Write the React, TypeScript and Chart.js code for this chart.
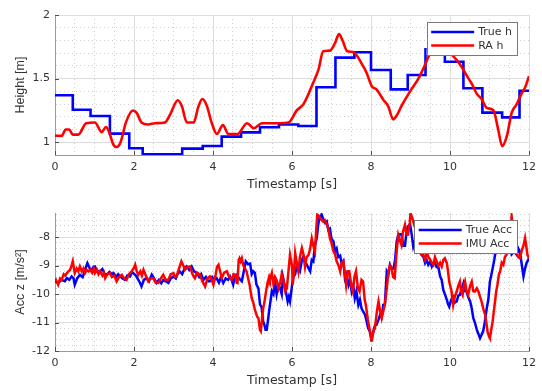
import React, { useEffect, useRef } from 'react';
import { Chart, registerables } from 'chart.js';

Chart.register(...registerables);

// ---------------- data ----------------
// Top: height
const trueHT = [0, 0.45, 0.9, 1.39, 1.88, 2.22, 3.22, 3.74, 4.22, 4.71, 5.19, 5.67, 6.16, 6.62, 7.1, 7.58, 8.0, 8.5, 8.93, 9.38, 9.87, 10.34, 10.82, 11.32, 11.76, 12];
const trueHV = [1.37, 1.256, 1.207, 1.068, 0.953, 0.906, 0.95, 0.971, 1.044, 1.078, 1.118, 1.14, 1.128, 1.432, 1.665, 1.707, 1.568, 1.416, 1.529, 1.73, 1.633, 1.424, 1.233, 1.196, 1.405, 1.405];

const raHT = [0, 0.17, 0.27, 0.36, 0.45, 0.59, 0.79, 1.01, 1.18, 1.29, 1.37, 1.48, 1.56, 1.66, 1.8, 1.97, 2.07, 2.19, 2.36, 2.53, 2.78, 2.91, 3.11, 3.21, 3.34, 3.51, 3.63, 3.73, 3.84, 3.97, 4.1, 4.25, 4.39, 4.62, 4.86, 5.03, 5.24, 5.44, 5.7, 5.91, 6.12, 6.29, 6.54, 6.67, 6.79, 6.96, 7.09, 7.19, 7.28, 7.4, 7.55, 7.76, 7.89, 8.02, 8.14, 8.31, 8.44, 8.56, 8.65, 8.78, 8.99, 9.2, 9.34, 9.5, 9.65, 9.8, 9.95, 10.04, 10.17, 10.3, 10.42, 10.55, 10.68, 10.8, 10.93, 11.1, 11.22, 11.32, 11.44, 11.56, 11.69, 11.81, 11.9, 12.0];
const raHV = [1.052, 1.05, 1.1, 1.1, 1.06, 1.06, 1.15, 1.155, 1.08, 1.12, 1.08, 0.98, 0.963, 1.0, 1.16, 1.25, 1.23, 1.155, 1.14, 1.15, 1.155, 1.215, 1.33, 1.285, 1.155, 1.155, 1.28, 1.34, 1.29, 1.15, 1.065, 1.135, 1.065, 1.065, 1.15, 1.11, 1.15, 1.15, 1.15, 1.155, 1.25, 1.3, 1.47, 1.57, 1.715, 1.72, 1.78, 1.85, 1.8, 1.715, 1.71, 1.62, 1.545, 1.44, 1.415, 1.335, 1.28, 1.18, 1.21, 1.29, 1.4, 1.5, 1.59, 1.7, 1.76, 1.74, 1.71, 1.69, 1.645, 1.59, 1.525, 1.46, 1.38, 1.34, 1.27, 1.25, 1.1, 0.97, 1.05, 1.23, 1.3, 1.38, 1.43, 1.52];

// Bottom: acceleration
const trueAccT = [0, 0.08, 0.17, 0.25, 0.3, 0.36, 0.42, 0.47, 0.5, 0.56, 0.63, 0.7, 0.76, 0.82, 0.88, 0.93, 0.97, 1.01, 1.07, 1.14, 1.2, 1.26, 1.31, 1.38, 1.44, 1.48, 1.55, 1.6, 1.65, 1.71, 1.77, 1.83, 1.9, 1.95, 1.98, 2.05, 2.11, 2.15, 2.19, 2.25, 2.32, 2.38, 2.45, 2.51, 2.57, 2.63, 2.69, 2.74, 2.8, 2.87, 2.93, 3.0, 3.06, 3.1, 3.16, 3.22, 3.28, 3.33, 3.4, 3.46, 3.52, 3.59, 3.65, 3.7, 3.76, 3.82, 3.88, 3.92, 3.98, 4.03, 4.09, 4.15, 4.2, 4.26, 4.32, 4.38, 4.43, 4.47, 4.51, 4.55, 4.6, 4.66, 4.73, 4.78, 4.83, 4.89, 4.94, 4.98, 5.02, 5.06, 5.1, 5.15, 5.19, 5.23, 5.27, 5.3, 5.33, 5.36, 5.4, 5.42, 5.46, 5.49, 5.53, 5.57, 5.61, 5.65, 5.7, 5.74, 5.77, 5.83, 5.89, 5.92, 5.95, 6.01, 6.03, 6.08, 6.12, 6.16, 6.2, 6.25, 6.29, 6.33, 6.37, 6.42, 6.46, 6.5, 6.54, 6.58, 6.63, 6.66, 6.69, 6.72, 6.75, 6.8, 6.84, 6.88, 6.92, 6.96, 7.0, 7.05, 7.09, 7.13, 7.17, 7.22, 7.26, 7.3, 7.34, 7.38, 7.43, 7.47, 7.51, 7.55, 7.59, 7.63, 7.68, 7.72, 7.76, 7.8, 7.85, 7.89, 7.93, 7.97, 8.0, 8.04, 8.06, 8.1, 8.14, 8.19, 8.23, 8.27, 8.31, 8.35, 8.4, 8.44, 8.48, 8.52, 8.57, 8.61, 8.65, 8.69, 8.73, 8.77, 8.82, 8.86, 8.9, 8.93, 8.99, 9.03, 9.07, 9.12, 9.16, 9.22, 9.28, 9.33, 9.37, 9.41, 9.45, 9.5, 9.54, 9.58, 9.62, 9.66, 9.71, 9.75, 9.79, 9.83, 9.87, 9.92, 9.95, 9.98, 10.03, 10.08, 10.12, 10.17, 10.21, 10.25, 10.3, 10.34, 10.38, 10.42, 10.46, 10.51, 10.55, 10.59, 10.63, 10.68, 10.72, 10.76, 10.8, 10.84, 10.88, 10.93, 10.97, 11.01, 11.05, 11.08, 11.12, 11.14, 11.18, 11.22, 11.27, 11.31, 11.35, 11.4, 11.44, 11.48, 11.52, 11.56, 11.62, 11.69, 11.73, 11.77, 11.81, 11.86, 11.9, 11.94, 11.98, 12.0];
const trueAccV = [-9.55, -9.6, -9.5, -9.55, -9.44, -9.5, -9.38, -9.45, -9.67, -9.45, -9.32, -9.4, -9.15, -8.91, -9.1, -9.15, -9.05, -9.03, -9.2, -9.2, -9.12, -9.3, -9.32, -9.22, -9.3, -9.26, -9.4, -9.3, -9.38, -9.45, -9.5, -9.35, -9.38, -9.22, -9.26, -9.35, -9.5, -9.6, -9.73, -9.5, -9.44, -9.55, -9.32, -9.45, -9.61, -9.5, -9.62, -9.5, -9.55, -9.61, -9.45, -9.38, -9.45, -9.3, -9.2, -9.3, -9.1, -9.03, -9.15, -9.03, -9.2, -9.26, -9.4, -9.3, -9.5, -9.4, -9.55, -9.55, -9.4, -9.5, -9.44, -9.6, -9.4, -9.61, -9.45, -9.5, -9.38, -9.5, -9.67, -9.4, -9.32, -9.45, -9.55, -9.2, -8.85, -8.95, -8.93, -9.3, -9.2, -9.25, -9.67, -9.8, -10.37, -10.45, -10.96, -11.08, -11.25, -11.25, -10.84, -10.6, -10.2, -9.9, -10.0, -9.6, -10.0, -9.67, -9.8, -10.0, -9.4, -9.8, -10.26, -10.1, -10.26, -9.6, -9.4, -9.3, -9.0, -9.1, -9.2, -8.8, -8.68, -8.9, -8.95, -9.1, -9.2, -8.8, -8.85, -8.3, -8.0, -7.6, -7.33, -7.3, -7.2, -7.4, -7.5, -7.45, -7.75, -7.7, -8.05, -8.15, -8.5, -8.4, -8.7, -8.65, -8.95, -8.85, -9.44, -9.3, -9.68, -9.5, -9.9, -9.7, -10.14, -9.9, -10.38, -10.2, -10.5, -10.61, -10.73, -10.96, -11.2, -11.31, -11.55, -11.43, -11.31, -11.1, -11.08, -10.9, -10.73, -10.8, -10.38, -10.37, -9.2, -9.3, -8.97, -9.09, -9.1, -8.8, -8.15, -7.92, -7.9, -7.9, -8.3, -8.3, -7.8, -7.63, -7.55, -7.9, -8.33, -8.1, -8.39, -8.5, -8.62, -8.7, -8.91, -8.8, -8.97, -8.85, -9.03, -8.9, -8.91, -9.05, -9.08, -9.38, -9.5, -9.85, -10.0, -10.2, -10.35, -10.44, -10.2, -10.1, -10.3, -10.26, -10.05, -10.03, -9.8, -9.62, -9.9, -9.91, -10.1, -10.26, -10.5, -10.85, -11.0, -11.26, -11.4, -11.55, -11.43, -11.3, -11.0, -10.5, -10.2, -9.56, -9.3, -9.09, -8.8, -8.62, -8.4, -8.27, -8.3, -8.15, -8.27, -8.35, -8.39, -8.2, -8.39, -8.6, -8.5, -8.62, -8.4, -8.51, -8.9, -9.38, -9.1, -8.9, -8.8, -8.85];

const imuAccT = [0, 0.04, 0.08, 0.13, 0.17, 0.22, 0.26, 0.3, 0.34, 0.38, 0.42, 0.45, 0.48, 0.5, 0.55, 0.59, 0.63, 0.68, 0.72, 0.76, 0.8, 0.85, 0.89, 0.94, 0.98, 1.01, 1.06, 1.1, 1.14, 1.2, 1.24, 1.27, 1.33, 1.39, 1.44, 1.5, 1.56, 1.62, 1.69, 1.75, 1.81, 1.87, 1.94, 1.99, 2.03, 2.07, 2.11, 2.16, 2.2, 2.24, 2.3, 2.36, 2.42, 2.49, 2.55, 2.62, 2.68, 2.74, 2.8, 2.87, 2.93, 3.0, 3.04, 3.08, 3.14, 3.2, 3.25, 3.29, 3.35, 3.42, 3.48, 3.54, 3.6, 3.67, 3.73, 3.8, 3.86, 3.92, 3.97, 4.01, 4.07, 4.1, 4.14, 4.18, 4.22, 4.28, 4.35, 4.41, 4.47, 4.52, 4.56, 4.6, 4.62, 4.65, 4.67, 4.7, 4.73, 4.77, 4.81, 4.85, 4.89, 4.93, 4.98, 5.02, 5.06, 5.12, 5.15, 5.19, 5.21, 5.24, 5.27, 5.3, 5.33, 5.38, 5.42, 5.44, 5.49, 5.53, 5.57, 5.61, 5.66, 5.7, 5.74, 5.78, 5.83, 5.87, 5.91, 5.95, 6.0, 6.02, 6.05, 6.08, 6.12, 6.16, 6.2, 6.25, 6.29, 6.33, 6.37, 6.42, 6.46, 6.5, 6.54, 6.58, 6.62, 6.64, 6.68, 6.71, 6.75, 6.79, 6.83, 6.88, 6.92, 6.96, 7.0, 7.05, 7.09, 7.13, 7.18, 7.22, 7.26, 7.3, 7.34, 7.37, 7.41, 7.45, 7.5, 7.54, 7.58, 7.62, 7.67, 7.71, 7.76, 7.8, 7.84, 7.87, 7.92, 7.96, 8.0, 8.02, 8.06, 8.1, 8.15, 8.19, 8.23, 8.27, 8.31, 8.35, 8.4, 8.44, 8.48, 8.52, 8.56, 8.6, 8.65, 8.69, 8.73, 8.77, 8.81, 8.86, 8.9, 8.94, 8.98, 9.0, 9.04, 9.1, 9.16, 9.22, 9.27, 9.32, 9.37, 9.41, 9.45, 9.5, 9.54, 9.58, 9.62, 9.66, 9.71, 9.75, 9.79, 9.83, 9.87, 9.92, 9.95, 9.98, 10.04, 10.08, 10.12, 10.17, 10.21, 10.25, 10.28, 10.32, 10.35, 10.38, 10.42, 10.46, 10.51, 10.55, 10.59, 10.63, 10.68, 10.72, 10.76, 10.8, 10.84, 10.89, 10.93, 10.95, 10.99, 11.01, 11.05, 11.08, 11.11, 11.14, 11.17, 11.2, 11.24, 11.27, 11.31, 11.35, 11.39, 11.43, 11.48, 11.52, 11.56, 11.59, 11.63, 11.69, 11.73, 11.77, 11.81, 11.86, 11.9, 11.93, 11.96, 12.0];
const imuAccV = [-9.44, -9.55, -9.67, -9.45, -9.5, -9.3, -9.35, -9.26, -9.2, -9.15, -9.0, -8.85, -9.1, -9.26, -9.1, -9.2, -9.03, -9.2, -9.1, -9.26, -9.15, -9.2, -9.15, -9.25, -9.1, -9.26, -9.15, -9.3, -9.2, -9.35, -9.25, -9.44, -9.3, -9.26, -9.4, -9.35, -9.55, -9.4, -9.32, -9.45, -9.5, -9.3, -9.2, -9.1, -8.97, -9.2, -9.32, -9.2, -9.35, -9.15, -9.35, -9.55, -9.45, -9.44, -9.6, -9.61, -9.45, -9.32, -9.5, -9.5, -9.3, -9.26, -9.4, -9.38, -9.1, -8.85, -9.0, -9.15, -9.05, -9.03, -9.3, -9.44, -9.25, -9.32, -9.55, -9.73, -9.45, -9.38, -9.5, -9.67, -9.3, -9.05, -8.97, -9.2, -9.44, -9.25, -9.2, -9.4, -9.5, -9.3, -9.32, -9.6, -9.61, -8.8, -8.74, -8.85, -8.74, -9.0, -9.1, -9.2, -9.45, -9.7, -10.14, -10.3, -10.55, -10.8, -10.84, -11.26, -11.3, -10.9, -10.5, -10.3, -10.02, -9.6, -9.4, -9.5, -9.26, -9.65, -9.4, -9.5, -9.8, -9.6, -9.3, -9.5, -9.9, -9.8, -9.2, -8.62, -9.0, -9.67, -9.2, -8.56, -8.9, -9.2, -8.7, -8.38, -8.6, -9.04, -8.7, -8.62, -8.4, -8.04, -8.3, -8.5, -7.6, -7.21, -7.25, -7.33, -7.4, -7.45, -7.4, -7.55, -7.7, -8.04, -8.2, -8.5, -8.6, -8.85, -9.0, -9.2, -8.9, -8.85, -9.3, -9.68, -9.2, -9.2, -9.7, -9.91, -9.4, -9.2, -9.8, -9.91, -9.5, -9.56, -10.2, -10.38, -10.9, -11.2, -11.5, -11.67, -11.3, -11.2, -10.6, -10.26, -10.6, -10.85, -10.6, -10.38, -9.8, -9.2, -9.0, -9.09, -9.4, -9.44, -8.5, -7.92, -8.1, -8.27, -7.8, -7.56, -7.9, -7.91, -7.5, -7.16, -7.3, -7.6, -7.8, -8.1, -8.6, -8.62, -8.8, -8.5, -8.68, -8.8, -8.9, -8.97, -8.7, -8.85, -9.0, -8.9, -9.03, -8.8, -8.74, -8.91, -9.2, -9.56, -9.91, -10.38, -10.1, -9.91, -9.7, -9.56, -9.9, -10.03, -9.7, -9.56, -9.9, -10.03, -9.7, -9.56, -9.9, -9.91, -9.8, -9.91, -10.1, -10.26, -10.5, -10.73, -11.1, -11.32, -11.5, -11.55, -11.2, -10.96, -10.6, -10.26, -9.9, -9.68, -9.3, -9.2, -8.9, -8.97, -8.7, -8.62, -8.3, -8.0, -7.27, -7.6, -8.4, -8.56, -8.7, -8.74, -8.5, -8.3, -8.03, -8.3, -8.62, -8.74];

// ticks
const xLabelTicks = [0, 2, 4, 6, 8, 10, 12];
const xMinorStep = 0.5;
const topYLabelTicks = [1, 1.5, 2];
const topYMinorStep = 0.1;
const botYLabelTicks = [-12, -11, -10, -9, -8];
const botYMinorStep = 0.2;

const topRange = { min: 0.9, max: 2 };
const botRange = { min: -12, max: -7.15 };

// ---------------- styles ----------------
const FONT_H = '"DejaVu Sans", sans-serif';
const FONT_V = '"Liberation Sans", Arial, sans-serif';
const TEXT = '#333333';
const AXIS = '#9a9a9a';
const TICKMARK = '#505050';
const GRID_MAJOR = '#dedede';
const GRID_MINOR = '#cfcfcf';
const BLUE = '#0000ff';
const RED = '#ff0000';

const near = (a: number, list: number[]) => list.some((m) => Math.abs(a - m) < 1e-6);

function tickValues(min: number, max: number, step: number) {
  const out: number[] = [];
  const n = Math.round((max - min) / step);
  for (let i = 0; i <= n; i++) out.push(Math.round((min + i * step) * 1000) / 1000);
  return out;
}

function makeLegend(items: { label: string; color: string }[]) {
  return {
    id: 'boxLegend',
    afterDraw(chart: any) {
      const { ctx, chartArea } = chart;
      ctx.save();
      ctx.font = `11px ${FONT_H}`;
      const textW = Math.max(...items.map((i) => ctx.measureText(i.label).width));
      const padL = 4.5, lineLen = 43, gap = 4, padR = 5;
      const w = padL + lineLen + gap + textW + padR;
      const h = 33;
      const right = chartArea.right - 12;
      const top = chartArea.top + 7;
      const left = right - w;
      ctx.fillStyle = '#ffffff';
      ctx.fillRect(left, top, w, h);
      ctx.strokeStyle = '#7a7a7a';
      ctx.lineWidth = 1;
      ctx.strokeRect(Math.round(left) + 0.5, Math.round(top) + 0.5, Math.round(w), Math.round(h));
      const rows = [top + 10, top + 23.5];
      items.forEach((it, i) => {
        ctx.strokeStyle = it.color;
        ctx.lineWidth = 2.4;
        ctx.beginPath();
        ctx.moveTo(left + padL, rows[i]);
        ctx.lineTo(left + padL + lineLen, rows[i]);
        ctx.stroke();
        ctx.fillStyle = TEXT;
        ctx.textAlign = 'left';
        ctx.textBaseline = 'middle';
        ctx.fillText(it.label, left + padL + lineLen + gap, rows[i] + 0.5);
      });
      ctx.restore();
    },
  };
}

function makeTickMarks(xMajor: number[], yMajor: number[]) {
  return {
    id: 'innerTicks',
    beforeDatasetsDraw(chart: any) {
      const { ctx, chartArea, scales } = chart;
      ctx.save();
      ctx.strokeStyle = TICKMARK;
      ctx.lineWidth = 1;
      ctx.beginPath();
      xMajor.forEach((v) => {
        const px = Math.round(scales.x.getPixelForValue(v)) + 0.5;
        ctx.moveTo(px, chartArea.bottom);
        ctx.lineTo(px, chartArea.bottom - 4);
      });
      yMajor.forEach((v) => {
        const py = Math.round(scales.y.getPixelForValue(v)) + 0.5;
        ctx.moveTo(chartArea.left, py);
        ctx.lineTo(chartArea.left + 4, py);
      });
      ctx.stroke();
      ctx.restore();
    },
  };
}

function gridOpts(major: number[]) {
  return {
    grid: {
      drawTicks: false,
      lineWidth: 1,
      color: (c: any) => (c.tick && near(c.tick.value, major) ? GRID_MAJOR : GRID_MINOR),
    },
    border: {
      display: true,
      color: AXIS,
      width: 1,
      dash: (c: any) => (c.tick && !near(c.tick.value, major) ? [1, 3] : []),
    },
  };
}

function makeConfig(opts: {
  datasets: any[];
  yMin: number;
  yMax: number;
  yLabelTicks: number[];
  yMinorStep: number;
  yMinorStart: number;
  yTitle: string;
  padTop: number;
  legend: { label: string; color: string }[];
}) {
  const xAll = tickValues(0, 12, xMinorStep);
  const yAll = tickValues(opts.yMinorStart, opts.yMax, opts.yMinorStep).filter((v) => v <= opts.yMax + 1e-9);
  return {
    type: 'line' as const,
    data: { datasets: opts.datasets },
    options: {
      responsive: false,
      animation: false,
      devicePixelRatio: 1,
      layout: { padding: { left: 0, right: 13, top: opts.padTop, bottom: 0 } },
      plugins: { legend: { display: false }, tooltip: { enabled: false } },
      elements: { point: { radius: 0 } },
      scales: {
        x: {
          type: 'linear',
          min: 0,
          max: 12,
          afterBuildTicks: (s: any) => {
            s.ticks = xAll.map((v) => ({ value: v }));
          },
          afterFit: (s: any) => {
            s.height = 40;
          },
          ticks: {
            autoSkip: false,
            maxRotation: 0,
            padding: 6,
            color: TEXT,
            font: { family: FONT_H, size: 11 },
            callback: (v: any) => (near(Number(v), xLabelTicks) ? String(v) : ''),
          },
          title: {
            display: true,
            text: 'Timestamp [s]',
            color: TEXT,
            font: { family: FONT_H, size: 12.5 },
            padding: { top: 0, bottom: 2.5 },
          },
          ...gridOpts(xLabelTicks),
        },
        y: {
          type: 'linear',
          min: opts.yMin,
          max: opts.yMax,
          afterBuildTicks: (s: any) => {
            s.ticks = yAll.map((v) => ({ value: v }));
          },
          afterFit: (s: any) => {
            s.width = 55;
          },
          ticks: {
            autoSkip: false,
            padding: 5,
            color: TEXT,
            font: { family: FONT_H, size: 11 },
            callback: (v: any) => (near(Number(v), opts.yLabelTicks) ? String(v) : ''),
          },
          title: {
            display: true,
            text: opts.yTitle,
            color: TEXT,
            font: { family: FONT_V, size: 12.5 },
            padding: { top: 13.5, bottom: 0 },
          },
          ...gridOpts(opts.yLabelTicks),
        },
      },
    },
    plugins: [makeTickMarks(xLabelTicks, opts.yLabelTicks), makeLegend(opts.legend)],
  };
}

const pts = (t: number[], v: number[]) => t.map((x, i) => ({ x, y: v[i] }));

export default function App() {
  const topRef = useRef<HTMLCanvasElement>(null);
  const botRef = useRef<HTMLCanvasElement>(null);

  useEffect(() => {
    const topCfg: any = makeConfig({
      datasets: [
        {
          label: 'True h',
          data: pts(trueHT, trueHV),
          borderColor: BLUE,
          borderWidth: 2.6,
          stepped: true,
          order: 1,
        },
        {
          label: 'RA h',
          data: pts(raHT, raHV),
          borderColor: RED,
          borderWidth: 2.6,
          cubicInterpolationMode: 'monotone',
          order: 0,
        },
      ],
      yMin: topRange.min,
      yMax: topRange.max,
      yLabelTicks: topYLabelTicks,
      yMinorStep: topYMinorStep,
      yMinorStart: topRange.min,
      yTitle: 'Height [m]',
      padTop: 15,
      legend: [
        { label: 'True h', color: BLUE },
        { label: 'RA h', color: RED },
      ],
    });
    const botCfg: any = makeConfig({
      datasets: [
        {
          label: 'True Acc',
          data: pts(trueAccT, trueAccV),
          borderColor: BLUE,
          borderWidth: 2.5,
          tension: 0,
          order: 1,
        },
        {
          label: 'IMU Acc',
          data: pts(imuAccT, imuAccV),
          borderColor: RED,
          borderWidth: 2.5,
          tension: 0,
          order: 0,
        },
      ],
      yMin: botRange.min,
      yMax: botRange.max,
      yLabelTicks: botYLabelTicks,
      yMinorStep: botYMinorStep,
      yMinorStart: botRange.min,
      yTitle: 'Acc z [m/s²]',
      padTop: 18,
      legend: [
        { label: 'True Acc', color: BLUE },
        { label: 'IMU Acc', color: RED },
      ],
    });
    const c1 = new Chart(topRef.current as HTMLCanvasElement, topCfg);
    const c2 = new Chart(botRef.current as HTMLCanvasElement, botCfg);
    return () => {
      c1.destroy();
      c2.destroy();
    };
  }, []);

  return (
    <div style={{ position: 'absolute', left: 0, top: 0, width: 542, height: 391, background: '#ffffff' }}>
      <canvas
        ref={topRef}
        width={542}
        height={195}
        style={{ position: 'absolute', left: 0, top: 0, width: 542, height: 195 }}
      />
      <canvas
        ref={botRef}
        width={542}
        height={196}
        style={{ position: 'absolute', left: 0, top: 195, width: 542, height: 196 }}
      />
    </div>
  );
}
